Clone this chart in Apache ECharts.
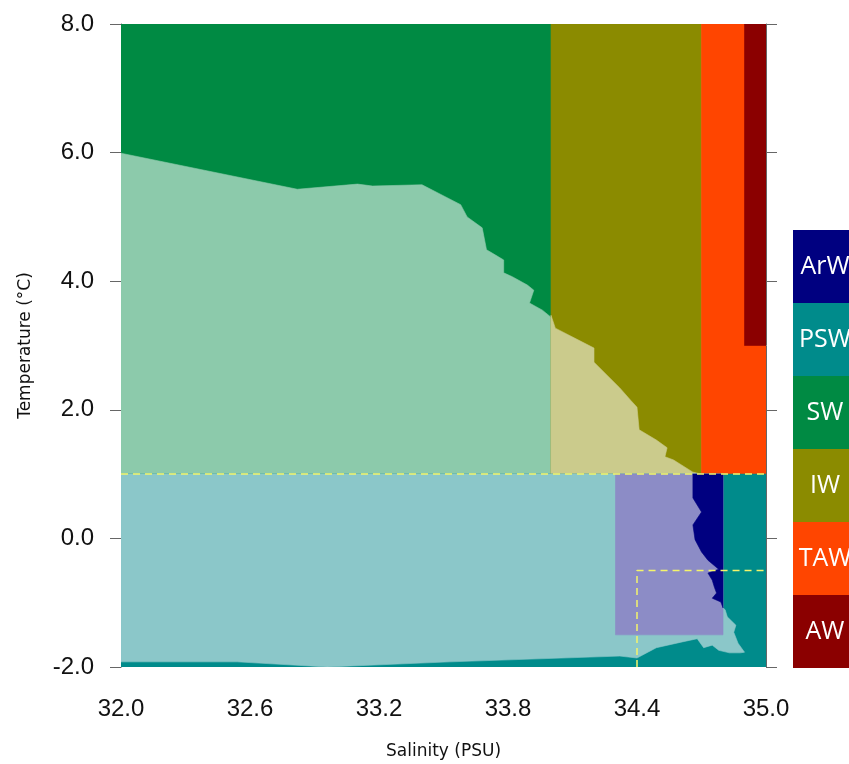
<!DOCTYPE html>
<html>
<head>
<meta charset="utf-8">
<script src="https://cdn.jsdelivr.net/npm/echarts@6/dist/echarts.min.js"></script>
<style>html,body{margin:0;padding:0;background:#fff;}#c{width:849px;height:764px;}</style>
</head>
<body>
<div id="c"></div>
<script>
// ---- data ----
const salinityTicks = [32.0, 32.6, 33.2, 33.8, 34.4, 35.0];
const temperatureTicks = [-2, 0, 2, 4, 6, 8];
const waterMasses = ['ArW', 'PSW', 'SW', 'IW', 'TAW', 'AW'];
const massColors = ['#000080', '#008b8b', '#008a43', '#8b8b00', '#ff4500', '#8b0000'];
const massLightColors = ['#8c8cc6', '#8bc7c9', '#8ccaab', '#cbcb8c'];

// SW / light-SW boundary (salinity, temperature)
const swBoundary = [[32.00,5.99],[32.82,5.43],[33.10,5.51],[33.17,5.48],[33.40,5.50],[33.58,5.19],[33.61,5.00],[33.68,4.83],[33.70,4.49],[33.74,4.41],[33.78,4.33],[33.78,4.13],[33.82,4.07],[33.89,3.94],[33.92,3.86],[33.90,3.66],[33.96,3.55],[34.00,3.44]];
// IW / light-IW boundary
const iwBoundary = [[34.00,3.47],[34.02,3.27],[34.20,2.96],[34.20,2.74],[34.32,2.34],[34.37,2.15],[34.40,2.04],[34.41,1.69],[34.49,1.53],[34.54,1.41],[34.53,1.27],[34.57,1.22],[34.66,1.03],[34.70,1.00]];
// ArW (dark) western boundary, top to bottom
const arwBoundary = [[34.66,1.00],[34.66,0.63],[34.70,0.41],[34.66,0.21],[34.67,-0.02],[34.70,-0.21],[34.73,-0.34],[34.78,-0.48],[34.73,-0.54],[34.75,-0.65],[34.76,-0.76],[34.77,-0.85],[34.75,-0.93],[34.79,-0.99],[34.80,-1.08]];
// light-PSW lower/right boundary, from right edge round to left edge
const lightPswBoundary = [[34.80,-1.08],[34.81,-1.11],[34.82,-1.22],[34.86,-1.35],[34.85,-1.46],[34.87,-1.63],[34.90,-1.77],[34.88,-1.78],[34.83,-1.78],[34.78,-1.74],[34.75,-1.66],[34.71,-1.70],[34.68,-1.56],[34.61,-1.61],[34.49,-1.70],[34.40,-1.86],[34.32,-1.83],[33.53,-1.92],[32.96,-2.00],[32.54,-1.92],[32.00,-1.92]];
// rectangular domains [sMin, sMax, tMin, tMax]
const swBox = [32.0, 34.0, 1, 8];
const iwBox = [34.0, 34.7, 1, 8];
const tawBox = [34.7, 35.0, 1, 8];
const awBox = [34.9, 35.0, 3, 8];
const pswBox = [32.0, 35.0, -2, 1];
const lightArwBox = [34.3, 34.8, -1.5, 1];
// dashed guide lines
const guideLine1 = [[32.0, 1], [35.0, 1]];
const guideLine2 = [[34.4, -2], [34.4, -0.5], [35.0, -0.5]];

function boxPoly(b) { return [[b[0], b[2]], [b[1], b[2]], [b[1], b[3]], [b[0], b[3]]]; }

const regions = [
  { poly: boxPoly(swBox), color: massColors[2] },
  { poly: [[32, 1], [34, 1]].concat(swBoundary.slice().reverse()), color: massLightColors[2] },
  { poly: boxPoly(iwBox), color: massColors[3] },
  { poly: [[34, 1]].concat(iwBoundary), color: massLightColors[3] },
  { poly: boxPoly(tawBox), color: massColors[4] },
  { poly: boxPoly(awBox), color: massColors[5] },
  { poly: boxPoly(pswBox), color: massColors[1] },
  { poly: [[32, 1], [34.8, 1]].concat(lightPswBoundary), color: massLightColors[1] },
  { poly: boxPoly(lightArwBox), color: massLightColors[0] },
  { poly: [[34.8, 1]].concat(arwBoundary), color: massColors[0] }
];

const chart = echarts.init(document.getElementById('c'), null, { renderer: 'canvas' });

const labelFont = { color: '#111', fontSize: 24, fontFamily: 'Liberation Sans' };
const axisLineStyle = { color: '#666', width: 1 };
const titleFont = { fontSize: 17, fontFamily: 'DejaVu Sans', color: '#111' };

const legendGraphics = [];
waterMasses.forEach((name, i) => {
  legendGraphics.push({
    type: 'rect', left: 793, top: 230 + i * 73,
    shape: { width: 70, height: 73 },
    style: { fill: massColors[i] }
  });
  legendGraphics.push({
    type: 'text', x: 825, y: 230 + i * 73 + 36.5,
    style: { text: name, fill: '#fff', fontSize: 25, fontFamily: 'Open Sans', align: 'center', verticalAlign: 'middle' }
  });
});

chart.setOption({
  animation: false,
  backgroundColor: '#fff',
  grid: { left: 121, top: 24, right: 83, bottom: 97, containLabel: false, outerBoundsMode: 'none' },
  xAxis: [
    {
      type: 'value', min: 32, max: 35, position: 'bottom',
      name: 'Salinity (PSU)', nameLocation: 'middle', nameGap: 76,
      nameTextStyle: titleFont,
      axisLine: { show: true, lineStyle: axisLineStyle },
      axisTick: { show: true, length: 11, customValues: salinityTicks, lineStyle: axisLineStyle },
      axisLabel: { margin: 30, customValues: salinityTicks, formatter: v => v.toFixed(1), ...labelFont },
      splitLine: { show: false }
    },
    {
      type: 'value', min: 32, max: 35, position: 'top',
      axisLine: { show: true, lineStyle: axisLineStyle },
      axisTick: { show: true, length: 11, customValues: salinityTicks, lineStyle: axisLineStyle },
      axisLabel: { show: false },
      splitLine: { show: false }
    }
  ],
  yAxis: [
    {
      type: 'value', min: -2, max: 8, position: 'left',
      name: 'Temperature (\u00B0C)', nameLocation: 'middle', nameGap: 87, nameRotate: 90,
      nameTextStyle: titleFont,
      axisLine: { show: true, lineStyle: axisLineStyle },
      axisTick: { show: true, length: 11, customValues: temperatureTicks, lineStyle: axisLineStyle },
      axisLabel: { margin: 27, customValues: temperatureTicks, formatter: v => v.toFixed(1), ...labelFont },
      splitLine: { show: false }
    },
    {
      type: 'value', min: -2, max: 8, position: 'right',
      axisLine: { show: true, lineStyle: axisLineStyle },
      axisTick: { show: true, length: 11, customValues: temperatureTicks, lineStyle: axisLineStyle },
      axisLabel: { show: false },
      splitLine: { show: false }
    }
  ],
  graphic: legendGraphics,
  series: [
    {
      type: 'custom',
      xAxisIndex: 0, yAxisIndex: 0,
      clip: true,
      data: regions.map((r, i) => i),
      renderItem: function (params, api) {
        const r = regions[params.dataIndex];
        return {
          type: 'polygon',
          shape: { points: r.poly.map(p => api.coord(p)) },
          style: { fill: r.color, stroke: r.color, lineWidth: 0.6 }
        };
      },
      z: 1
    },
    {
      type: 'line', xAxisIndex: 0, yAxisIndex: 0, data: guideLine1,
      symbol: 'none', lineStyle: { color: '#f5f56a', width: 1.5, type: [7, 5] }, z: 5
    },
    {
      type: 'line', xAxisIndex: 0, yAxisIndex: 0, data: guideLine2,
      symbol: 'none', lineStyle: { color: '#f5f56a', width: 1.5, type: [7, 5] }, z: 5
    }
  ]
});
</script>
</body>
</html>
